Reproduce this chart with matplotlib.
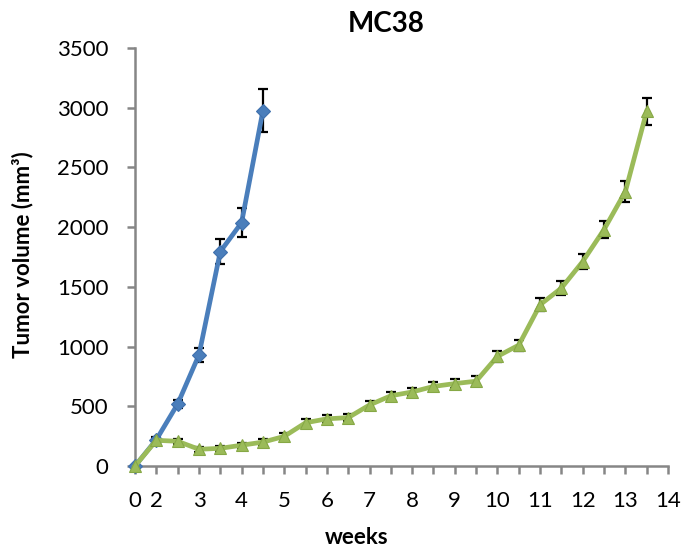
import matplotlib
matplotlib.use("Agg")
import matplotlib.pyplot as plt
import numpy as np

plt.rcParams['font.family'] = ['Lato', 'DejaVu Sans']

# category axis (weeks)
weeks = ["0", "2", "2.5", "3", "3.5", "4", "4.5", "5", "5.5", "6", "6.5", "7", "7.5",
         "8", "8.5", "9", "9.5", "10", "10.5", "11", "11.5", "12", "12.5", "13", "13.5", "14"]
tick_labels = [w if "." not in w else "" for w in weeks]

# series 1 (blue)
blue_vals = [0, 220, 519, 930, 1795, 2038, 2975]
blue_err = [0, 20, 30, 55, 105, 120, 180]

# series 2 (green)
green_vals = [0, 215, 207, 140, 148, 174, 200, 248, 362, 395, 405, 511, 588, 620, 666,
              690, 710, 918, 1012, 1350, 1490, 1712, 1980, 2298, 2970]
green_err = [0, 20, 20, 20, 20, 20, 25, 30, 30, 30, 30, 35, 35, 35, 40,
             35, 40, 45, 45, 55, 55, 65, 75, 90, 115]

fig = plt.figure(figsize=(6.84, 5.5), dpi=100)
ax = fig.add_axes([135 / 684, 1 - 466 / 550, 533 / 684, 418 / 550])

x_all = np.arange(len(weeks))
xb = x_all[:len(blue_vals)]
xg = x_all[:len(green_vals)]

ax.errorbar(xb, blue_vals, yerr=blue_err, fmt='none', ecolor='black',
            elinewidth=1.6, capsize=3.8, capthick=1.6, zorder=2, clip_on=False)
ax.errorbar(xg, green_vals, yerr=green_err, fmt='none', ecolor='black',
            elinewidth=1.6, capsize=3.8, capthick=1.6, zorder=2, clip_on=False)

ax.plot(xb, blue_vals, color='#4A7EBB', lw=3.4, marker='D', ms=7,
        mfc='#4A7EBB', mec='#3F70AD', mew=0.8, zorder=3, clip_on=False)
ax.plot(xg, green_vals, color='#9BBB59', lw=3.4, marker='^', ms=9,
        mfc='#9BBB59', mec='#86A845', mew=0.8, zorder=4, clip_on=False)

ax.set_xlim(0, len(weeks) - 1)
ax.set_ylim(0, 3500)
ax.set_yticks(np.arange(0, 3501, 500))
ax.set_xticks(x_all)
ax.set_xticklabels(tick_labels)

for s in ['top', 'right']:
    ax.spines[s].set_visible(False)
for s in ['left', 'bottom']:
    ax.spines[s].set_color('#868686')
    ax.spines[s].set_linewidth(1.8)

ax.tick_params(axis='both', colors='#868686', width=1.8, length=6, direction='out',
               labelcolor='black', labelsize=16)
ax.tick_params(axis='y', pad=13)
ax.tick_params(axis='x', pad=12)

fig.text(386 / 684, 1 - 24 / 550, "MC38", ha='center', va='center',
         fontsize=20, fontweight='bold')
fig.text(23 / 684, 1 - 255 / 550, "Tumor volume (mm³)", ha='center', va='center',
         rotation=90, fontsize=16, fontweight='bold')
fig.text(357 / 684, 1 - 538 / 550, "weeks", ha='center', va='center',
         fontsize=16, fontweight='bold')

fig.savefig("out.png", dpi=100)
